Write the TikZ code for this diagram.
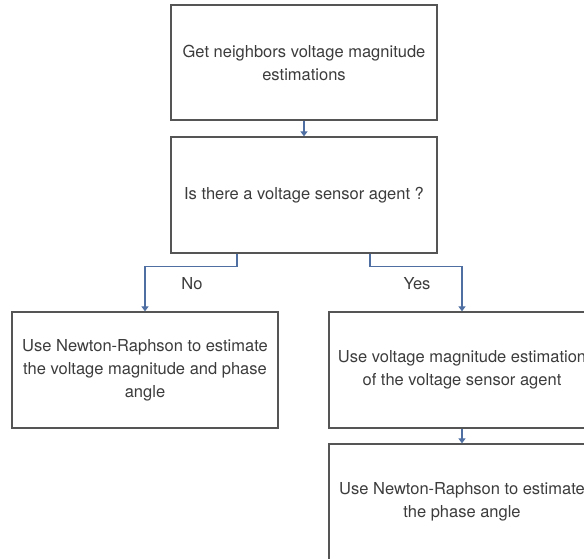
\documentclass[tikz,border=0pt]{standalone}
\usepackage{fontspec}
\setmainfont{TeX Gyre Heros}
\usetikzlibrary{arrows.meta}
\definecolor{boxline}{HTML}{555555}
\definecolor{arrowblue}{HTML}{4F6FA3}
\definecolor{txt}{HTML}{3C3C3C}
\tikzset{
  stepbox/.style={draw=boxline, line width=1.3pt, rectangle, minimum width=266pt, minimum height=116pt, inner sep=0pt, align=center, text=txt, font=\fontsize{16.5}{23}\selectfont},
  arr/.style={draw=arrowblue, line width=1.3pt, -{Triangle[width=7pt,length=5pt]}},
  lbl/.style={text=txt, font=\fontsize{16.5}{23}\selectfont, inner sep=0pt}
}
\begin{document}
\begin{tikzpicture}[x=1pt,y=-1pt]
\clip (0,0) rectangle (584,558);
\node[stepbox, minimum height=115pt] (get) at (304,62.5) {Get neighbors voltage magnitude\\estimations};
\node[stepbox] (q) at (304,195) {Is there a voltage sensor agent ?};
\node[stepbox] (nr) at (145,370) {Use Newton-Raphson to estimate\\the voltage magnitude and phase\\angle};
\node[stepbox] (use) at (462,370) {Use voltage magnitude estimation\\of the voltage sensor agent};
\node[stepbox] (nrp) at (462,502) {Use Newton-Raphson to estimate\\the phase angle};
\draw[arr] (get.south) -- (q.north);
\draw[arr] ([xshift=-67pt]q.south) -- ++(0,13) -| (nr.north);
\draw[arr] ([xshift=66pt]q.south) -- ++(0,13) -| (use.north);
\draw[arr] (use.south) -- (nrp.north);
\node[lbl] (no) at (192,284) {No};
\node[lbl] (yes) at (417,284) {Yes};
\end{tikzpicture}
\end{document}
